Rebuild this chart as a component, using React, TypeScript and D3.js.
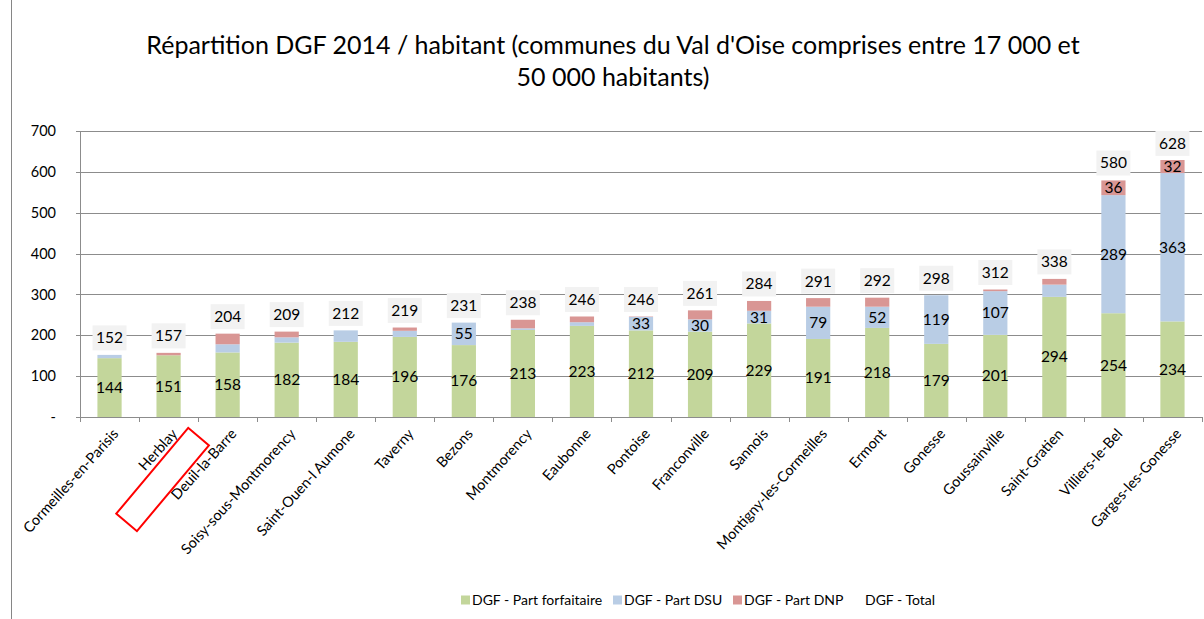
import * as d3 from "d3";
import { useEffect, useRef } from "react";

const communes = [
  "Cormeilles-en-Parisis",
  "Herblay",
  "Deuil-la-Barre",
  "Soisy-sous-Montmorency",
  "Saint-Ouen-l Aumone",
  "Taverny",
  "Bezons",
  "Montmorency",
  "Eaubonne",
  "Pontoise",
  "Franconville",
  "Sannois",
  "Montigny-les-Cormeilles",
  "Ermont",
  "Gonesse",
  "Goussainville",
  "Saint-Gratien",
  "Villiers-le-Bel",
  "Garges-les-Gonesse",
];
const partForfaitaire = [144, 151, 158, 182, 184, 196, 176, 213, 223, 212, 209, 229, 191, 218, 179, 201, 294, 254, 234];
const partDSU = [8, 0, 20, 13, 28, 15, 55, 4, 9, 33, 30, 31, 79, 52, 119, 107, 30, 289, 363];
const partDNP = [0, 6, 26, 14, 0, 8, 0, 21, 14, 1, 22, 24, 21, 22, 0, 4, 14, 36, 32];
const total = [152, 157, 204, 209, 212, 219, 231, 238, 246, 246, 261, 284, 291, 292, 298, 312, 338, 580, 628];
// which stacked labels are shown in the original (others were removed)
const dsuLabelShown = [false, false, false, false, false, false, true, false, false, true, true, true, true, true, true, true, false, true, true];
const dnpLabelShown = [false, false, false, false, false, false, false, false, false, false, false, false, false, false, false, false, false, true, true];
const yTicks = [0, 100, 200, 300, 400, 500, 600, 700];

const seriesNames = ["DGF - Part forfaitaire", "DGF - Part DSU", "DGF - Part DNP", "DGF - Total"];
const seriesColors = ["#c3d69b", "#b9cde5", "#d99694"];

const font = "Lato, 'Open Sans', sans-serif";

export default function App() {
  const svgRef = useRef<SVGSVGElement>(null);

  useEffect(() => {
    document.body.style.margin = "0";
    drawChart();
  }, []);

  function drawChart() {
    const svg = d3.select(svgRef.current);
    svg.selectAll("*").remove();

    const x = d3.scaleBand().domain(communes).range([80, 1202]).paddingInner(0.59).paddingOuter(0.295);
    const xTicks = d3.scaleBand().domain(communes).range([80, 1202]);
    const y = d3.scaleLinear().domain([0, 700]).range([417, 131]);

    const rows = communes.map((c, i) => ({
      commune: c,
      forf: partForfaitaire[i],
      dsu: partDSU[i],
      dnp: partDNP[i],
    }));
    const stack = d3.stack<any>().keys(["forf", "dsu", "dnp"]);
    const layers = stack(rows);
    const shownLabels = [partForfaitaire.map(() => true), dsuLabelShown, dnpLabelShown];

    // chart border on the left
    svg.append("line").attr("x1", 11.5).attr("x2", 11.5).attr("y1", 0).attr("y2", 619)
      .attr("stroke", "#868686").attr("stroke-width", 1);

    // title
    const title = svg.append("text").attr("font-family", font).attr("font-size", 25)
      .attr("text-anchor", "middle").attr("fill", "#000");
    title.append("tspan").attr("x", 613).attr("y", 54)
      .text("Répartition DGF 2014 / habitant (communes du Val d'Oise comprises entre 17 000 et");
    title.append("tspan").attr("x", 613).attr("y", 86).text("50 000 habitants)");

    // gridlines
    svg.append("g").selectAll("line").data(yTicks.slice(1)).join("line")
      .attr("x1", 80).attr("x2", 1202)
      .attr("y1", (d) => Math.round(y(d)) + 0.5).attr("y2", (d) => Math.round(y(d)) + 0.5)
      .attr("stroke", "#8c8c8c").attr("stroke-width", 1);

    // y axis
    const yAxis = svg.append("g");
    yAxis.append("line").attr("x1", 80.5).attr("x2", 80.5).attr("y1", y(700)).attr("y2", y(0))
      .attr("stroke", "#8c8c8c");
    yAxis.selectAll("line.tick").data(yTicks).join("line").attr("class", "tick")
      .attr("x1", 76).attr("x2", 80)
      .attr("y1", (d) => Math.round(y(d)) + 0.5).attr("y2", (d) => Math.round(y(d)) + 0.5)
      .attr("stroke", "#8c8c8c");
    yAxis.selectAll("text").data(yTicks).join("text")
      .attr("x", 56).attr("y", (d) => y(d)).attr("dy", "0.35em")
      .attr("text-anchor", "end").attr("font-family", font).attr("font-size", 14.5).attr("fill", "#000")
      .text((d) => (d === 0 ? "-" : String(d)));

    // bars
    svg.append("g").selectAll("g").data(layers).join("g")
      .attr("fill", (_d, i) => seriesColors[i])
      .selectAll("rect").data((d) => d).join("rect")
      .attr("x", (d: any) => x(d.data.commune)!)
      .attr("width", x.bandwidth())
      .attr("y", (d) => y(d[1]))
      .attr("height", (d) => y(d[0]) - y(d[1]));

    // x axis
    const xAxis = svg.append("g");
    xAxis.append("line").attr("x1", 80).attr("x2", 1202).attr("y1", 417.5).attr("y2", 417.5)
      .attr("stroke", "#8c8c8c");
    xAxis.selectAll("line.tick").data(communes.concat([""])).join("line").attr("class", "tick")
      .attr("x1", (_d, i) => Math.round(80 + i * xTicks.step()) + 0.5)
      .attr("x2", (_d, i) => Math.round(80 + i * xTicks.step()) + 0.5)
      .attr("y1", 417).attr("y2", 422).attr("stroke", "#8c8c8c");
    xAxis.selectAll("text").data(communes).join("text")
      .attr("transform", (d) => `translate(${xTicks(d)! + xTicks.bandwidth() / 2 + 6},${431}) rotate(-48)`)
      .attr("text-anchor", "end").attr("dy", "0.35em")
      .attr("font-family", font).attr("font-size", 14.5).attr("fill", "#000")
      .text((d) => d);

    // segment labels
    layers.forEach((layer, li) => {
      svg.append("g").selectAll("text").data(layer.filter((_d, i) => shownLabels[li][i])).join("text")
        .attr("x", (d: any) => x(d.data.commune)! + x.bandwidth() / 2)
        .attr("y", (d) => y((d[0] + d[1]) / 2)).attr("dy", "0.35em")
        .attr("text-anchor", "middle").attr("font-family", font).attr("font-size", 15.5).attr("fill", "#000")
        .text((d) => String(d[1] - d[0]));
    });

    // total labels in grey boxes
    const totals = svg.append("g").selectAll("g").data(communes).join("g")
      .attr("transform", (d, i) => `translate(${x(d)! + x.bandwidth() / 2},${y(total[i]) - 17})`);
    totals.append("rect").attr("x", -17).attr("y", -12.5).attr("width", 34).attr("height", 25)
      .attr("fill", "#f2f2f2");
    totals.append("text").attr("dy", "0.35em").attr("text-anchor", "middle")
      .attr("font-family", font).attr("font-size", 15.5).attr("fill", "#000")
      .text((_d, i) => String(total[i]));

    // red annotation box around Herblay
    const herblayX = xTicks("Herblay")! + xTicks.bandwidth() / 2;
    svg.append("rect")
      .attr("transform", `translate(${herblayX - 6},479.5) rotate(-50)`)
      .attr("x", -56).attr("y", -13.5).attr("width", 112).attr("height", 27)
      .attr("fill", "none").attr("stroke", "#ff0000").attr("stroke-width", 2);

    // legend
    const legendX = [461, 613, 733, 852];
    const legend = svg.append("g").selectAll("g").data(seriesNames).join("g")
      .attr("transform", (_d, i) => `translate(${legendX[i]},600)`);
    legend.filter((_d, i) => i < 3).append("rect")
      .attr("x", 0).attr("y", -4.5).attr("width", 9).attr("height", 9)
      .attr("fill", (_d, i) => seriesColors[i]);
    legend.append("text").attr("x", (_d, i) => (i < 3 ? 11 : 13)).attr("dy", "0.35em")
      .attr("font-family", font).attr("font-size", 14).attr("fill", "#000")
      .text((d) => d);
  }

  return (
    <div>
      <svg ref={svgRef} width={1204} height={619} style={{ display: "block" }}></svg>
    </div>
  );
}
